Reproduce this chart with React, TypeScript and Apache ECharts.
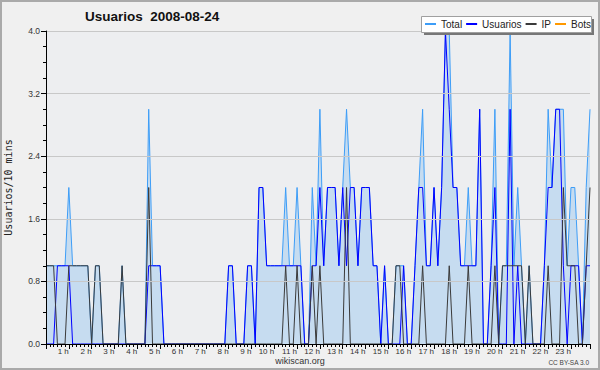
import React, { useEffect, useRef } from "react";
import * as echarts from "echarts";

const TITLE = "Usuarios  2008-08-24";
const Y_NAME = "Usuarios/10 mins";
const FOOTER = "wikiscan.org";
const LICENSE = "CC BY-SA 3.0";
const SERIES_NAMES = ["Total", "Usuarios", "IP", "Bots"];
const Y_TICKS = [0, 0.8, 1.6, 2.4, 3.2, 4.0];
const SLOTS_PER_HOUR = 6;
const HOUR_LABELS = [
  "1 h", "2 h", "3 h", "4 h", "5 h", "6 h", "7 h", "8 h", "9 h", "10 h", "11 h", "12 h",
  "13 h", "14 h", "15 h", "16 h", "17 h", "18 h", "19 h", "20 h", "21 h", "22 h", "23 h",
];

// 144 ten-minute slots
const TOTAL = [
  1, 1, 1, 1, 1, 1, 2, 1, 1, 1,
  1, 1, 0, 1, 1, 0, 0, 0, 0, 0,
  1, 0, 0, 0, 0, 0, 0, 3, 1, 1,
  1, 0, 0, 0, 0, 0, 0, 0, 0, 0,
  0, 0, 0, 0, 0, 0, 0, 0, 1, 1,
  0, 0, 0, 1, 1, 0, 2, 2, 1, 1,
  1, 1, 1, 2, 1, 1, 2, 1, 0, 0,
  2, 1, 3, 1, 2, 2, 2, 1, 2, 3,
  2, 2, 1, 2, 2, 2, 1, 1, 0, 1,
  0, 0, 1, 1, 1, 0, 0, 1, 2, 3,
  1, 1, 2, 1, 2, 4, 4, 2, 2, 1,
  1, 2, 1, 1, 3, 0, 0, 1, 3, 0,
  1, 1, 4, 1, 2, 1, 0, 1, 0, 0,
  0, 1, 3, 2, 3, 3, 3, 1, 2, 2,
  1, 0, 2, 3,
];
const USUARIOS = [
  0, 0, 0, 1, 1, 1, 1, 0, 0, 0,
  0, 0, 0, 0, 0, 0, 0, 0, 0, 0,
  0, 0, 0, 0, 0, 0, 0, 1, 1, 1,
  1, 0, 0, 0, 0, 0, 0, 0, 0, 0,
  0, 0, 0, 0, 0, 0, 0, 0, 1, 1,
  0, 0, 0, 1, 1, 0, 2, 2, 1, 1,
  1, 1, 1, 1, 1, 1, 1, 1, 0, 0,
  1, 1, 2, 1, 2, 2, 2, 1, 2, 1,
  2, 2, 1, 2, 2, 2, 1, 1, 0, 1,
  0, 0, 0, 0, 1, 0, 0, 1, 2, 2,
  1, 1, 2, 1, 2, 4, 3, 2, 2, 1,
  1, 1, 1, 1, 3, 0, 0, 1, 2, 0,
  0, 0, 3, 0, 1, 0, 0, 0, 0, 0,
  0, 1, 2, 2, 3, 3, 1, 0, 1, 1,
  1, 0, 1, 1,
];
const IP = [
  1, 1, 1, 0, 0, 0, 1, 1, 1, 1,
  1, 1, 0, 1, 1, 0, 0, 0, 0, 0,
  1, 0, 0, 0, 0, 0, 0, 2, 0, 0,
  0, 0, 0, 0, 0, 0, 0, 0, 0, 0,
  0, 0, 0, 0, 0, 0, 0, 0, 0, 0,
  0, 0, 0, 0, 0, 0, 0, 0, 0, 0,
  0, 0, 0, 1, 0, 0, 1, 0, 0, 0,
  1, 0, 1, 0, 0, 0, 0, 0, 0, 2,
  0, 0, 0, 0, 0, 0, 0, 0, 0, 0,
  0, 0, 1, 1, 0, 0, 0, 0, 0, 1,
  0, 0, 0, 0, 0, 0, 1, 0, 0, 0,
  0, 1, 0, 0, 0, 0, 0, 0, 1, 0,
  1, 1, 1, 1, 1, 1, 0, 1, 0, 0,
  0, 0, 1, 0, 0, 0, 2, 1, 1, 1,
  0, 0, 1, 2,
];
const BOTS = [
  0, 0, 0, 0, 0, 0, 0, 0, 0, 0,
  0, 0, 0, 0, 0, 0, 0, 0, 0, 0,
  0, 0, 0, 0, 0, 0, 0, 0, 0, 0,
  0, 0, 0, 0, 0, 0, 0, 0, 0, 0,
  0, 0, 0, 0, 0, 0, 0, 0, 0, 0,
  0, 0, 0, 0, 0, 0, 0, 0, 0, 0,
  0, 0, 0, 0, 0, 0, 0, 0, 0, 0,
  0, 0, 0, 0, 0, 0, 0, 0, 0, 0,
  0, 0, 0, 0, 0, 0, 0, 0, 0, 0,
  0, 0, 0, 0, 0, 0, 0, 0, 0, 0,
  0, 0, 0, 0, 0, 0, 0, 0, 0, 0,
  0, 0, 0, 0, 0, 0, 0, 0, 0, 0,
  0, 0, 0, 0, 0, 0, 0, 0, 0, 0,
  0, 0, 0, 0, 0, 0, 0, 0, 0, 0,
  0, 0, 0, 0,
];

const COLORS = ["#3d9df7", "#0000ff", "#3a3a3a", "#ff9900"];

const toPairs = (arr: number[]) => arr.map((v, i) => [i, v]);

export default function App() {
  const ref = useRef<HTMLDivElement>(null);
  useEffect(() => {
    if (!ref.current) return;
    const chart = echarts.init(ref.current, undefined, { renderer: "svg" });
    const font = "Liberation Sans, Arial, sans-serif";
    const lastSlot = TOTAL.length - 1;
    const mkLine = (idx: number, data: number[], extra: any = {}) => ({
      name: SERIES_NAMES[idx],
      type: "line",
      data: toPairs(data),
      showSymbol: false,
      symbol: "none",
      smooth: false,
      lineStyle: { color: COLORS[idx], width: 1 },
      itemStyle: { color: COLORS[idx] },
      z: 2,
      ...extra,
    });
    chart.setOption({
      animation: false,
      backgroundColor: "#f0f0f0",
      title: {
        text: TITLE,
        left: 85,
        top: 9,
        padding: 0,
        textStyle: { fontFamily: font, fontWeight: "bold", fontSize: 13.5, color: "#111" },
      },
      legend: {
        data: SERIES_NAMES,
        left: 425,
        top: 19,
        padding: 0,
        itemWidth: 11,
        itemHeight: 2,
        itemGap: 4,
        icon: "rect",
        z: 12,
        textStyle: { fontFamily: font, fontSize: 10, color: "#222" },
      },
      grid: {
        left: 46,
        right: 10,
        top: 31,
        bottom: 26,
        show: true,
        backgroundColor: "#edeef0",
        borderWidth: 0,
        containLabel: false,
        outerBoundsMode: "none",
      },
      xAxis: {
        type: "value",
        min: 0,
        max: lastSlot,
        interval: SLOTS_PER_HOUR,
        z: 5,
        axisLine: { show: true, lineStyle: { color: "#000", width: 1 } },
        axisTick: { show: true, length: 5, lineStyle: { color: "#000" } },
        minorTick: { show: true, splitNumber: SLOTS_PER_HOUR, length: 3, lineStyle: { color: "#000" } },
        splitLine: { show: false },
        axisLabel: {
          margin: 3,
          align: "right",
          fontFamily: font,
          fontSize: 8,
          color: "#333",
          showMaxLabel: false,
          formatter: (v: number) => {
            const h = v / SLOTS_PER_HOUR;
            if (!Number.isInteger(h) || h < 1 || h > HOUR_LABELS.length) return "";
            return HOUR_LABELS[h - 1];
          },
        },
      },
      yAxis: {
        type: "value",
        min: Y_TICKS[0],
        max: Y_TICKS[Y_TICKS.length - 1],
        interval: Y_TICKS[1] - Y_TICKS[0],
        z: 5,
        name: Y_NAME,
        nameLocation: "middle",
        nameGap: 33,
        nameRotate: 90,
        nameTextStyle: { fontFamily: "DejaVu Sans Mono, monospace", fontSize: 10, color: "#222" },
        axisLine: { show: true, lineStyle: { color: "#000", width: 1 } },
        axisTick: { show: true, length: 5, lineStyle: { color: "#000" } },
        minorTick: { show: true, splitNumber: 4, length: 3, lineStyle: { color: "#000" } },
        splitLine: { show: true, lineStyle: { color: "#c8c8c8", width: 1 } },
        axisLabel: {
          margin: 6,
          fontFamily: font,
          fontSize: 8.5,
          color: "#333",
          formatter: (v: number) => v.toFixed(1),
        },
      },
      series: [
        mkLine(0, TOTAL, { areaStyle: { color: "#c6dcf0", opacity: 1 } }),
        mkLine(1, USUARIOS),
        mkLine(2, IP),
        mkLine(3, BOTS, { z: 1 }),
      ],
      graphic: [
        {
          type: "rect",
          z: 10,
          shape: { x: 424, y: 19, width: 170, height: 16 },
          style: { fill: "#777" },
        },
        {
          type: "rect",
          z: 11,
          shape: { x: 421.5, y: 16.5, width: 170, height: 16 },
          style: { fill: "#fff", stroke: "#a0a0a0", lineWidth: 1 },
        },
        {
          type: "text",
          z: 11,
          x: 300,
          y: 361,
          style: { text: FOOTER, fontFamily: font, fontSize: 9, fill: "#333", align: "center", verticalAlign: "middle" },
        },
        {
          type: "text",
          z: 11,
          x: 589,
          y: 362,
          style: { text: LICENSE, fontFamily: font, fontSize: 6.5, fill: "#444", align: "right", verticalAlign: "middle" },
        },
        {
          type: "rect",
          z: 11,
          shape: { x: 1, y: 1, width: 598, height: 368 },
          style: { fill: "none", stroke: "#aaaaaa", lineWidth: 2 },
        },
      ],
    });
    return () => chart.dispose();
  }, []);
  return (
    <div
      ref={ref}
      style={{ position: "fixed", left: 0, top: 0, width: 600, height: 370 }}
    />
  );
}
